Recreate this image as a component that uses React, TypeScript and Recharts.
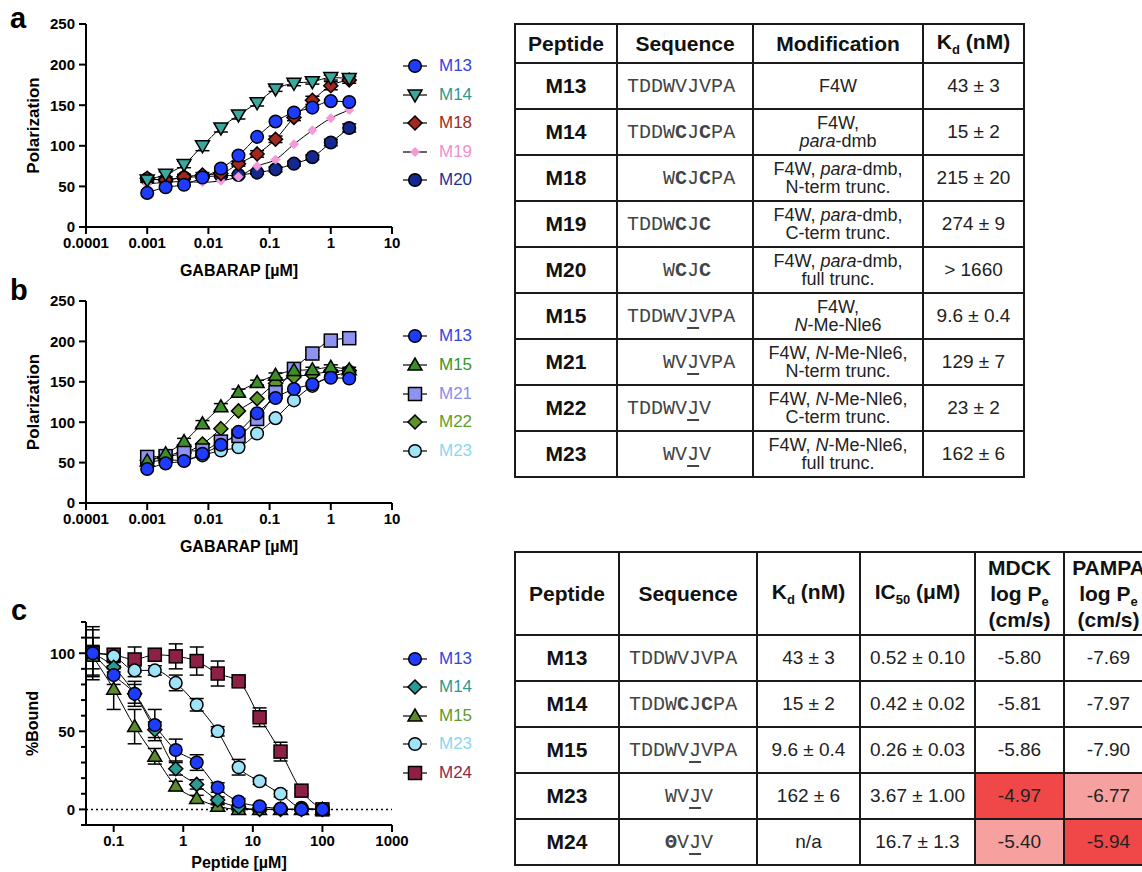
import React from "react";
import { LineChart, Line, XAxis, YAxis, ErrorBar, Legend, ReferenceLine } from "recharts";

const FONT = "'Liberation Sans', Arial, Helvetica, sans-serif";
const MONO = "'Liberation Mono', 'Courier New', monospace";

// ---- panel a / b : FP titration ----
const gabarap = [0.001, 0.002, 0.004, 0.008, 0.016, 0.031, 0.0625, 0.125, 0.25, 0.5, 1, 2];
const gabarapTicks = [0.0001, 0.001, 0.01, 0.1, 1, 10];
const polarTicks = [0, 50, 100, 150, 200, 250];

const aM13 = [42, 49, 52, 61, 72, 88, 111, 130, 141, 147, 155, 154];
const aM14 = [58, 65, 77, 100, 122, 138, 153, 170, 177, 179, 184, 183];
const aM14e = [3, 3, 4, 6, 5, 5, 4, 3, 3, 3, 3, 3];
const aM18 = [60, 58, 62, 64, 66, 78, 90, 108, 135, 156, 174, 181];
const aM18e = [2, 2, 3, 3, 3, 3, 4, 4, 4, 5, 5, 4];
const aM19 = [53, 55, 56, 55, 57, 62, 75, 83, 102, 119, 134, 144];
const aM20 = [59, 58, 61, 62, 63, 64, 67, 71, 78, 86, 104, 122];
const aM20e = [2, 2, 2, 2, 2, 2, 2, 3, 3, 3, 4, 5];

const bM13 = [42, 49, 52, 61, 72, 88, 111, 130, 141, 147, 155, 154];
const bM15 = [52, 61, 76, 98, 119, 137, 149, 158, 164, 165, 168, 165];
const bM15e = [2, 3, 4, 4, 4, 4, 3, 3, 3, 3, 3, 3];
const bM21 = [57, 58, 64, 65, 76, 83, 104, 137, 166, 185, 201, 204];
const bM21e = [2, 2, 3, 3, 3, 3, 4, 4, 4, 4, 3, 3];
const bM22 = [53, 57, 62, 73, 92, 114, 129, 148, 156, 159, 163, 164];
const bM23 = [50, 53, 53, 59, 65, 69, 86, 105, 127, 145, 156, 162];

// ---- panel c : competition ----
const peptide = [0.05, 0.1, 0.2, 0.39, 0.78, 1.56, 3.125, 6.25, 12.5, 25, 50, 100];
const peptideTicks = [0.1, 1, 10, 100, 1000];
const boundTicks = [-10, 0, 10, 20, 30, 40, 50, 60, 70, 80, 90, 100, 110, 120];
const boundLabels = [0, 50, 100];

const cM13 = [100, 86, 74, 54, 38, 30, 14, 5, 2, 0.5, 0, 0];
const cM13e = [15, 6, 8, 10, 7, 5, 3, 2, 1, 1, 1, 1];
const cM14 = [100, 91, 74, 51, 26, 16, 6, 1.5, 0, 0, 0, 0];
const cM14e = [17, 3, 6, 5, 4, 3, 2, 1, 1, 1, 1, 1];
const cM15 = [98, 77, 53, 34, 15, 7, 2, 0, 0, 0, 0, 0];
const cM15e = [12, 13, 11, 5, 3, 2, 1, 1, 1, 1, 1, 1];
const cM23 = [100, 98, 89, 89, 81, 67, 50, 27, 18, 10, 1, 0];
const cM23e = [10, 3, 4, 3, 5, 4, 3, 5, 2, 2, 1, 1];
const cM24 = [100, 99, 96, 99, 98, 95, 87, 82, 59, 37, 12, 0];
const cM24e = [5, 4, 8, 4, 8, 9, 8, 2, 6, 6, 2, 2];

// ---- tables ----
const t1Peptide = ["M13", "M14", "M18", "M19", "M20", "M15", "M21", "M22", "M23"];
const t1Sequence = ["TDDWVJVPA", "TDDW*CJ*CPA", "   W*CJ*CPA", "TDDW*CJ*C", "   W*CJ*C", "TDDWV_JVPA", "   WV_JVPA", "TDDWV_JV", "   WV_JV"];
const t1Mod = [
  "F4W",
  "F4W,|/para/-dmb",
  "F4W, /para/-dmb,|N-term trunc.",
  "F4W, /para/-dmb,|C-term trunc.",
  "F4W, /para/-dmb,|full trunc.",
  "F4W,|/N/-Me-Nle6",
  "F4W, /N/-Me-Nle6,|N-term trunc.",
  "F4W, /N/-Me-Nle6,|C-term trunc.",
  "F4W, /N/-Me-Nle6,|full trunc.",
];
const t1Kd = ["43 ± 3", "15 ± 2", "215 ± 20", "274 ± 9", "> 1660", "9.6 ± 0.4", "129 ± 7", "23 ± 2", "162 ± 6"];

const t2Peptide = ["M13", "M14", "M15", "M23", "M24"];
const t2Sequence = ["TDDWVJVPA", "TDDW*CJ*CPA", "TDDWV_JVPA", "   WV_JV", "   *ΘV_JV"];
const t2Kd = ["43 ± 3", "15 ± 2", "9.6 ± 0.4", "162 ± 6", "n/a"];
const t2IC50 = ["0.52 ± 0.10", "0.42 ± 0.02", "0.26 ± 0.03", "3.67 ± 1.00", "16.7 ± 1.3"];
const t2MDCK = ["-5.80", "-5.81", "-5.86", "-4.97", "-5.40"];
const t2PAMPA = ["-7.69", "-7.97", "-7.90", "-6.77", "-5.94"];
const t2MDCKShade = ["", "", "", "#f04848", "#f7a0a0"];
const t2PAMPAShade = ["", "", "", "#f7a0a0", "#f04848"];

type Shape = "circle" | "down" | "up" | "diamond" | "small" | "square";
type Series = { key: string; fill: string; text: string; shape: Shape; values: number[]; err?: number[] };

const seriesA: Series[] = [
  { key: "M13", fill: "#1e3cff", text: "#3046e0", shape: "circle", values: aM13 },
  { key: "M14", fill: "#3ca79d", text: "#2e9a8f", shape: "down", values: aM14, err: aM14e },
  { key: "M18", fill: "#a3271c", text: "#a02c22", shape: "diamond", values: aM18, err: aM18e },
  { key: "M19", fill: "#f49ad8", text: "#f08fd0", shape: "small", values: aM19 },
  { key: "M20", fill: "#14288f", text: "#1c2f95", shape: "circle", values: aM20, err: aM20e },
];
const seriesB: Series[] = [
  { key: "M13", fill: "#1e3cff", text: "#3046e0", shape: "circle", values: bM13 },
  { key: "M15", fill: "#3b8f2a", text: "#35962a", shape: "up", values: bM15, err: bM15e },
  { key: "M21", fill: "#8f93f0", text: "#8a8ee8", shape: "square", values: bM21, err: bM21e },
  { key: "M22", fill: "#5e9426", text: "#5f9c2a", shape: "diamond", values: bM22 },
  { key: "M23", fill: "#9ee3f7", text: "#8cd6f0", shape: "circle", values: bM23 },
];
const seriesC: Series[] = [
  { key: "M13", fill: "#1e3cff", text: "#3046e0", shape: "circle", values: cM13, err: cM13e },
  { key: "M14", fill: "#2a9c95", text: "#2e9a8f", shape: "diamond", values: cM14, err: cM14e },
  { key: "M15", fill: "#5b8a2a", text: "#5c9a2e", shape: "up", values: cM15, err: cM15e },
  { key: "M23", fill: "#9ee3f7", text: "#8cd6f0", shape: "circle", values: cM23, err: cM23e },
  { key: "M24", fill: "#8c2045", text: "#8c2a4e", shape: "square", values: cM24, err: cM24e },
];

function Marker({ shape, cx, cy, fill }: { shape: Shape; cx: number; cy: number; fill: string }) {
  const st = { fill, stroke: "#000", strokeWidth: 1.5 };
  if (shape === "circle") return <circle cx={cx} cy={cy} r={6.3} {...st} />;
  if (shape === "down") return <polygon points={`${cx - 7},${cy - 5} ${cx + 7},${cy - 5} ${cx},${cy + 7}`} {...st} />;
  if (shape === "up") return <polygon points={`${cx - 7},${cy + 5} ${cx + 7},${cy + 5} ${cx},${cy - 7}`} {...st} />;
  if (shape === "diamond") return <polygon points={`${cx},${cy - 7} ${cx + 7},${cy} ${cx},${cy + 7} ${cx - 7},${cy}`} {...st} />;
  if (shape === "square") return <rect x={cx - 6.5} y={cy - 6.5} width={13} height={13} {...st} />;
  return <polygon points={`${cx},${cy - 4.5} ${cx + 4.5},${cy} ${cx},${cy + 4.5} ${cx - 4.5},${cy}`} fill={fill} stroke={fill} strokeWidth={1} />;
}

function LegendBox({ series, step }: { series: Series[]; step: number }) {
  return (
    <div style={{ fontFamily: FONT }}>
      {series.map((s) => (
        <div key={s.key} style={{ display: "flex", alignItems: "center", height: step }}>
          <svg width={30} height={20}>
            <line x1={3} x2={27} y1={10} y2={10} stroke="#000" strokeWidth={1.2} />
            <Marker shape={s.shape} cx={15} cy={10} fill={s.fill} />
          </svg>
          <span style={{ marginLeft: 9, fontSize: 17, color: s.text }}>{s.key}</span>
        </div>
      ))}
    </div>
  );
}

function BoundTick(props: any) {
  const { x, y, payload } = props;
  const major = boundLabels.includes(payload.value);
  return (
    <g>
      <line x1={x - (major ? 7 : 5)} x2={x} y1={y} y2={y} stroke="#000" strokeWidth={2} />
      {major && (
        <text x={x - 11} y={y} dy="0.36em" textAnchor="end" fontSize={15} fontWeight={700} fill="#000">
          {payload.value}
        </text>
      )}
    </g>
  );
}

type PanelProps = {
  top: number;
  height: number;
  plotTop: number;
  plotBottom: number;
  xs: number[];
  series: Series[];
  xDomain: number[];
  xTicks: number[];
  yDomain: number[];
  yTicks: number[];
  xLabel: string;
  yLabel: string;
  legendTop: number;
  legendStep: number;
  xAxisHeight: number;
  labelOffset: number;
  bound?: boolean;
};

function Panel(p: PanelProps) {
  const data = p.xs.map((x, i) => {
    const row: any = { x };
    p.series.forEach((s) => {
      row[s.key] = s.values[i];
      if (s.err) row[s.key + "e"] = s.err[i];
    });
    return row;
  });
  const axisStyle = { stroke: "#000", strokeWidth: 2 };
  const tickStyle = { fill: "#000", fontSize: 15, fontWeight: 700 };
  return (
    <div style={{ position: "absolute", left: 0, top: p.top }}>
      <LineChart
        width={480}
        height={p.height}
        data={data}
        margin={{ top: p.plotTop, right: 88, left: 26, bottom: p.height - p.plotBottom - p.xAxisHeight }}
        style={{ fontFamily: FONT }}
      >
        <XAxis
          dataKey="x"
          type="number"
          scale="log"
          domain={p.xDomain}
          ticks={p.xTicks}
          interval={0}
          allowDataOverflow
          height={p.xAxisHeight}
          axisLine={axisStyle}
          tickLine={axisStyle}
          tickSize={7}
          tickMargin={3}
          tick={tickStyle}
          tickFormatter={(v: number) => String(v)}
          label={{ value: p.xLabel, position: "insideBottom", offset: p.labelOffset, fill: "#000", fontSize: 16, fontWeight: 700 }}
        />
        {p.bound ? (
          <YAxis
            type="number"
            domain={p.yDomain}
            ticks={p.yTicks}
            interval={0}
            width={60}
            axisLine={axisStyle}
            tickLine={false}
            tickSize={0}
            tickMargin={0}
            tick={<BoundTick />}
            label={{ value: p.yLabel, angle: -90, position: "insideLeft", offset: 6, fill: "#000", fontSize: 16, fontWeight: 700, style: { textAnchor: "middle" } }}
          />
        ) : (
          <YAxis
            type="number"
            domain={p.yDomain}
            ticks={p.yTicks}
            interval={0}
            width={60}
            axisLine={axisStyle}
            tickLine={axisStyle}
            tickSize={7}
            tickMargin={4}
            tick={tickStyle}
            label={{ value: p.yLabel, angle: -90, position: "insideLeft", offset: 7, fill: "#000", fontSize: 17, fontWeight: 700, style: { textAnchor: "middle" } }}
          />
        )}
        {p.bound && <ReferenceLine y={0} stroke="#000" strokeWidth={1.5} strokeDasharray="2 3" />}
        {[...p.series].reverse().map((s) => (
          <Line
            key={s.key}
            dataKey={s.key}
            type="monotone"
            stroke="#000"
            strokeWidth={1}
            isAnimationActive={false}
            activeDot={false}
            dot={(d: any) => (
              <g key={`${s.key}-${d.index}`}>
                {d.cx != null && d.cy != null && <Marker shape={s.shape} cx={d.cx} cy={d.cy} fill={s.fill} />}
              </g>
            )}
          >
            {s.err && <ErrorBar dataKey={s.key + "e"} width={7} stroke="#000" strokeWidth={1.5} direction="y" />}
          </Line>
        ))}
        <Legend
          layout="horizontal"
          verticalAlign="middle"
          align="center"
          wrapperStyle={{ left: 400, right: "auto", top: p.legendTop, width: 80 }}
          content={() => <LegendBox series={p.series} step={p.legendStep} />}
        />
      </LineChart>
    </div>
  );
}

function Seq({ s }: { s: string }) {
  const out: React.ReactNode[] = [];
  let i = 0;
  while (i < s.length) {
    const ch = s[i];
    if (ch === "*") {
      out.push(<b key={i}>{s[i + 1]}</b>);
      i += 2;
    } else if (ch === "_") {
      out.push(
        <span key={i} style={{ textDecoration: "underline", textUnderlineOffset: 5 }}>
          {s[i + 1]}
        </span>
      );
      i += 2;
    } else {
      out.push(<span key={i}>{ch === " " ? "\u00a0" : ch}</span>);
      i += 1;
    }
  }
  return <span style={{ fontFamily: MONO, fontSize: 20, color: "#444", whiteSpace: "pre" }}>{out}</span>;
}

function Mod({ s }: { s: string }) {
  return (
    <>
      {s.split("|").map((line, li) => (
        <div key={li}>{line.split("/").map((part, pi) => (pi % 2 ? <i key={pi}>{part}</i> : <span key={pi}>{part}</span>))}</div>
      ))}
    </>
  );
}

const cell: React.CSSProperties = { border: "2px solid #1a1a1a", padding: 0, textAlign: "center", verticalAlign: "middle" };
const head: React.CSSProperties = { ...cell, fontWeight: 700, fontSize: 21, color: "#111" };
const pep: React.CSSProperties = { ...cell, fontWeight: 700, fontSize: 21, color: "#111" };
const seqCell: React.CSSProperties = { ...cell, textAlign: "left", paddingLeft: 9 };
const val: React.CSSProperties = { ...cell, fontSize: 19, color: "#222" };

function Table1() {
  const widths = [102, 136, 170, 101];
  return (
    <table style={{ position: "absolute", left: 514, top: 23, borderCollapse: "collapse", tableLayout: "fixed", width: 509, fontFamily: FONT }}>
      <colgroup>
        {widths.map((w, i) => (
          <col key={i} style={{ width: w }} />
        ))}
      </colgroup>
      <tbody>
        <tr style={{ height: 39 }}>
          <td style={head}>Peptide</td>
          <td style={head}>Sequence</td>
          <td style={head}>Modification</td>
          <td style={head}>
            K<sub style={{ fontSize: 13 }}>d</sub> (nM)
          </td>
        </tr>
        {t1Peptide.map((pName, i) => (
          <tr key={pName} style={{ height: 46 }}>
            <td style={pep}>{pName}</td>
            <td style={seqCell}>
              <Seq s={t1Sequence[i]} />
            </td>
            <td style={{ ...val, fontSize: 18, lineHeight: "18px" }}>
              <Mod s={t1Mod[i]} />
            </td>
            <td style={val}>{t1Kd[i]}</td>
          </tr>
        ))}
      </tbody>
    </table>
  );
}

function Table2() {
  const widths = [104, 138, 103, 115, 89, 89];
  return (
    <table style={{ position: "absolute", left: 514, top: 551, borderCollapse: "collapse", tableLayout: "fixed", width: 638, fontFamily: FONT }}>
      <colgroup>
        {widths.map((w, i) => (
          <col key={i} style={{ width: w }} />
        ))}
      </colgroup>
      <tbody>
        <tr style={{ height: 83 }}>
          <td style={head}>Peptide</td>
          <td style={head}>Sequence</td>
          <td style={head}>
            K<sub style={{ fontSize: 13 }}>d</sub> (nM)
          </td>
          <td style={head}>
            IC<sub style={{ fontSize: 13 }}>50</sub> (μM)
          </td>
          <td style={{ ...head, lineHeight: "26px" }}>
            MDCK
            <br />
            log P<sub style={{ fontSize: 13, lineHeight: 0 }}>e</sub>
            <br />
            (cm/s)
          </td>
          <td style={{ ...head, lineHeight: "26px" }}>
            PAMPA
            <br />
            log P<sub style={{ fontSize: 13, lineHeight: 0 }}>e</sub>
            <br />
            (cm/s)
          </td>
        </tr>
        {t2Peptide.map((pName, i) => (
          <tr key={pName} style={{ height: 46 }}>
            <td style={pep}>{pName}</td>
            <td style={seqCell}>
              <Seq s={t2Sequence[i]} />
            </td>
            <td style={val}>{t2Kd[i]}</td>
            <td style={val}>{t2IC50[i]}</td>
            <td style={{ ...val, background: t2MDCKShade[i] || "#fff" }}>{t2MDCK[i]}</td>
            <td style={{ ...val, background: t2PAMPAShade[i] || "#fff" }}>{t2PAMPA[i]}</td>
          </tr>
        ))}
      </tbody>
    </table>
  );
}

const letter: React.CSSProperties = { position: "absolute", fontFamily: FONT, fontWeight: 700, fontSize: 29, lineHeight: "29px" };

export default function App() {
  return (
    <div style={{ position: "absolute", left: 0, top: 0, width: 1142, height: 872, overflow: "hidden", background: "#fff" }}>
      <Panel
        top={0}
        height={290}
        plotTop={24}
        plotBottom={227}
        xs={gabarap}
        series={seriesA}
        xDomain={[0.0001, 10]}
        xTicks={gabarapTicks}
        yDomain={[0, 250]}
        yTicks={polarTicks}
        xLabel="GABARAP [µM]"
        yLabel="Polarization"
        legendTop={52}
        legendStep={28.5}
        xAxisHeight={50}
        labelOffset={1}
      />
      <Panel
        top={276}
        height={290}
        plotTop={25}
        plotBottom={227}
        xs={gabarap}
        series={seriesB}
        xDomain={[0.0001, 10]}
        xTicks={gabarapTicks}
        yDomain={[0, 250]}
        yTicks={polarTicks}
        xLabel="GABARAP [µM]"
        yLabel="Polarization"
        legendTop={45.6}
        legendStep={28.8}
        xAxisHeight={50}
        labelOffset={1}
      />
      <Panel
        top={560}
        height={312}
        plotTop={62}
        plotBottom={265}
        xs={peptide}
        series={seriesC}
        xDomain={[0.04, 1000]}
        xTicks={peptideTicks}
        yDomain={[-10, 120]}
        yTicks={boundTicks}
        xLabel="Peptide [µM]"
        yLabel="%Bound"
        legendTop={84.7}
        legendStep={28.5}
        xAxisHeight={47}
        labelOffset={4}
        bound
      />
      <div style={{ ...letter, left: 10, top: 4 }}>a</div>
      <div style={{ ...letter, left: 10, top: 276 }}>b</div>
      <div style={{ ...letter, left: 11, top: 596 }}>c</div>
      <Table1 />
      <Table2 />
    </div>
  );
}
